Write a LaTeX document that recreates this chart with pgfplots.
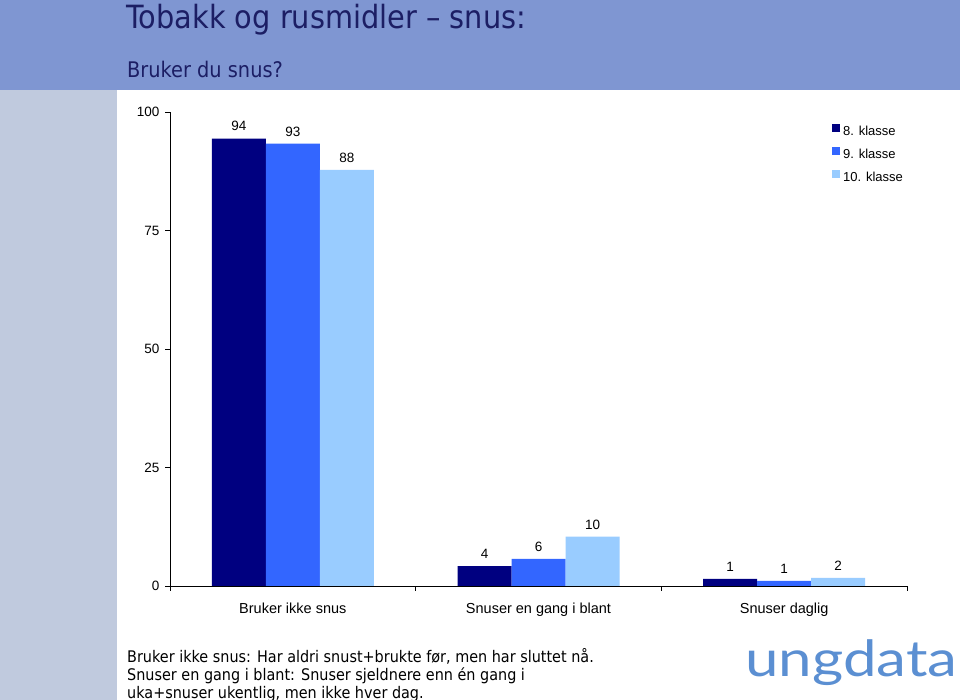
\documentclass[border=0pt]{standalone}
\usepackage{fontspec}
\setmainfont{Liberation Sans}
\newfontfamily\tahoma{DejaVu Sans}[FakeStretch=0.90]
\newfontfamily\logofont{Lato}
\usepackage{pgfplots}
\usepackage{pgfplotstable}
\pgfplotsset{compat=1.18}
\definecolor{banner}{RGB}{127,150,210}
\definecolor{strip}{RGB}{192,202,222}
\definecolor{titlecol}{RGB}{28,30,100}
\definecolor{logocol}{RGB}{91,143,210}
\definecolor{cA}{RGB}{0,0,128}
\definecolor{cB}{RGB}{51,102,255}
\definecolor{cC}{RGB}{153,204,255}

\pgfplotstableread{
x y lab
0 94.4 94
1 4.2 4
2 1.5 1
}\klasseA
\pgfplotstableread{
x y lab
0 93.3 93
1 5.7 6
2 1.1 1
}\klasseB
\pgfplotstableread{
x y lab
0 87.8 88
1 10.4 10
2 1.7 2
}\klasseC

\begin{document}
\begin{tikzpicture}
\useasboundingbox (0pt,0pt) rectangle (960pt,700pt);
\clip (0pt,0pt) rectangle (960pt,700pt);
\fill[white] (0pt,0pt) rectangle (960pt,700pt);
\fill[banner] (0pt,610pt) rectangle (960pt,700pt);
\fill[strip] (0pt,0pt) rectangle (117pt,610pt);
\node[anchor=base west, inner sep=0pt, text=titlecol, font=\tahoma\fontsize{32}{36}\selectfont] at (126pt,671.7pt) {Tobakk og rusmidler – snus:};
\node[anchor=base west, inner sep=0pt, text=titlecol, font=\tahoma\fontsize{21.5}{24}\selectfont] at (127pt,622.3pt) {Bruker du snus?};

\begin{axis}[
  at={(170pt,114pt)}, anchor=south west,
  scale only axis, width=737pt, height=474pt,
  xmin=-0.5, xmax=2.5, ymin=0, ymax=100,
  ytick={0,25,50,75,100},
  xtick={-0.5,0.5,1.5,2.5},
  x tick label as interval,
  xticklabels={Bruker ikke snus, Snuser en gang i blant, Snuser daglig},
  axis x line*=bottom, axis y line*=left,
  axis line style={-, black, line width=0.8pt},
  tick style={black, line width=0.8pt},
  tick align=outside, major tick length=5pt,
  /pgf/number format/assume math mode=true,
  tick label style={font=\fontsize{13.5}{15}\selectfont},
  yticklabel style={xshift=-2pt},
  xticklabel style={yshift=-8pt, font=\fontsize{14.5}{16}\selectfont},
  ybar=0pt, bar width=54pt,
  point meta=explicit symbolic,
  nodes near coords,
  nodes near coords style={font=\fontsize{13.5}{15}\selectfont, yshift=4pt},
  legend image code/.code={\fill[#1] (0pt,0.2pt) rectangle (8pt,7.8pt);},
  legend cell align=left,
  legend style={at={(0.898,0.974)}, anchor=north west, draw=none, fill=none,
    inner sep=0pt, outer sep=0pt, row sep=8.5pt, column sep=3.3pt,
    font=\fontsize{13}{15}\selectfont,
    nodes={inner sep=0pt, text height=10pt, text depth=3pt}},
]
\addplot[fill=cA, draw=none] table[x=x, y=y, meta=lab] {\klasseA};
\addplot[fill=cB, draw=none] table[x=x, y=y, meta=lab] {\klasseB};
\addplot[fill=cC, draw=none] table[x=x, y=y, meta=lab] {\klasseC};
\legend{8. klasse, 9. klasse, 10. klasse}
\end{axis}

\node[anchor=base west, inner sep=0pt, font=\tahoma\fontsize{16}{18}\selectfont] at (127pt,37.5pt) {Bruker ikke snus: Har aldri snust+brukte før, men har sluttet nå.};
\node[anchor=base west, inner sep=0pt, font=\tahoma\fontsize{16}{18}\selectfont] at (127pt,19.5pt) {Snuser en gang i blant: Snuser sjeldnere enn én gang i};
\node[anchor=base west, inner sep=0pt, font=\tahoma\fontsize{16}{18}\selectfont] at (127pt,1.5pt) {uka+snuser ukentlig, men ikke hver dag.};
\node[anchor=base west, inner sep=0pt, text=logocol] at (745pt,23pt) {\scalebox{1.2}[1]{\logofont\fontsize{50}{55}\selectfont ungdata}};
\end{tikzpicture}
\end{document}
